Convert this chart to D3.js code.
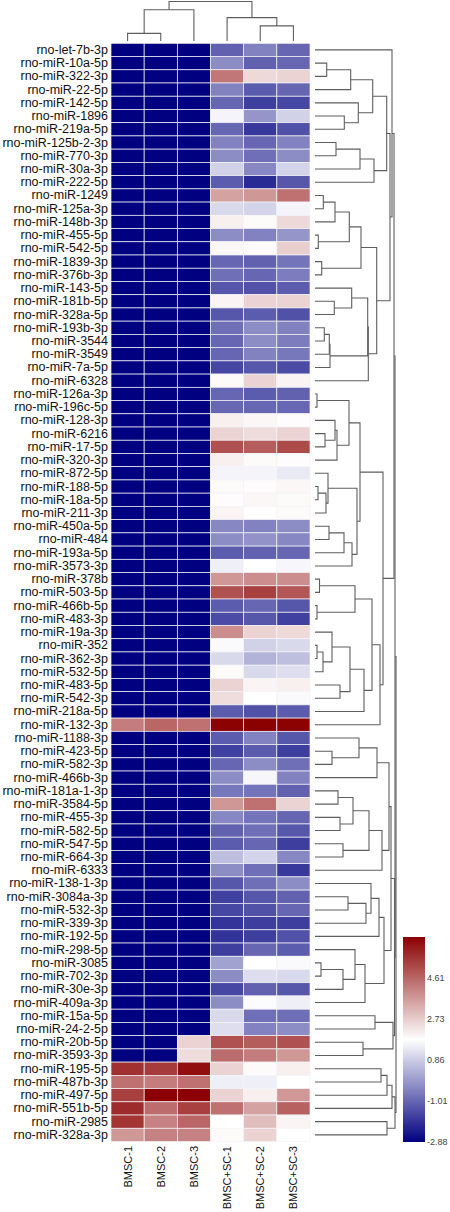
<!DOCTYPE html>
<html><head><meta charset="utf-8">
<script src="https://cdn.jsdelivr.net/npm/d3@7"></script>
<style>html,body{margin:0;padding:0;background:#fff;}svg{display:block;}</style>
</head><body>
<svg id="chart" width="450" height="1212"></svg>
<script>
const rowNames = ["rno-let-7b-3p","rno-miR-10a-5p","rno-miR-322-3p","rno-miR-22-5p","rno-miR-142-5p","rno-miR-1896","rno-miR-219a-5p","rno-miR-125b-2-3p","rno-miR-770-3p","rno-miR-30a-3p","rno-miR-222-5p","rno-miR-1249","rno-miR-125a-3p","rno-miR-148b-3p","rno-miR-455-5p","rno-miR-542-5p","rno-miR-1839-3p","rno-miR-376b-3p","rno-miR-143-5p","rno-miR-181b-5p","rno-miR-328a-5p","rno-miR-193b-3p","rno-miR-3544","rno-miR-3549","rno-miR-7a-5p","rno-miR-6328","rno-miR-126a-3p","rno-miR-196c-5p","rno-miR-128-3p","rno-miR-6216","rno-miR-17-5p","rno-miR-320-3p","rno-miR-872-5p","rno-miR-188-5p","rno-miR-18a-5p","rno-miR-211-3p","rno-miR-450a-5p","rno-miR-484","rno-miR-193a-5p","rno-miR-3573-3p","rno-miR-378b","rno-miR-503-5p","rno-miR-466b-5p","rno-miR-483-3p","rno-miR-19a-3p","rno-miR-352","rno-miR-362-3p","rno-miR-532-5p","rno-miR-483-5p","rno-miR-542-3p","rno-miR-218a-5p","rno-miR-132-3p","rno-miR-1188-3p","rno-miR-423-5p","rno-miR-582-3p","rno-miR-466b-3p","rno-miR-181a-1-3p","rno-miR-3584-5p","rno-miR-455-3p","rno-miR-582-5p","rno-miR-547-5p","rno-miR-664-3p","rno-miR-6333","rno-miR-138-1-3p","rno-miR-3084a-3p","rno-miR-532-3p","rno-miR-339-3p","rno-miR-192-5p","rno-miR-298-5p","rno-miR-3085","rno-miR-702-3p","rno-miR-30e-3p","rno-miR-409a-3p","rno-miR-15a-5p","rno-miR-24-2-5p","rno-miR-20b-5p","rno-miR-3593-3p","rno-miR-195-5p","rno-miR-487b-3p","rno-miR-497-5p","rno-miR-551b-5p","rno-miR-2985","rno-miR-328a-3p"];

const sampleNames = ["BMSC-1","BMSC-2","BMSC-3","BMSC+SC-1","BMSC+SC-2","BMSC+SC-3"];

const BMSC1 = [-2.88,-2.88,-2.88,-2.88,-2.88,-2.88,-2.88,-2.88,-2.88,-2.88,-2.88,-2.88,-2.88,-2.88,-2.88,-2.88,-2.88,-2.88,-2.88,-2.88,-2.88,-2.88,-2.88,-2.88,-2.88,-2.88,-2.88,-2.88,-2.88,-2.88,-2.88,-2.88,-2.88,-2.88,-2.88,-2.88,-2.88,-2.88,-2.88,-2.88,-2.88,-2.88,-2.88,-2.88,-2.88,-2.88,-2.88,-2.88,-2.88,-2.88,-2.88,4.2,-2.88,-2.88,-2.88,-2.88,-2.88,-2.88,-2.88,-2.88,-2.88,-2.88,-2.88,-2.88,-2.88,-2.88,-2.88,-2.88,-2.88,-2.88,-2.88,-2.88,-2.88,-2.88,-2.88,-2.88,-2.88,5.6,4.4,5.3,5.7,5.5,3.7];
const BMSC2 = [-2.88,-2.88,-2.88,-2.88,-2.88,-2.88,-2.88,-2.88,-2.88,-2.88,-2.88,-2.88,-2.88,-2.88,-2.88,-2.88,-2.88,-2.88,-2.88,-2.88,-2.88,-2.88,-2.88,-2.88,-2.88,-2.88,-2.88,-2.88,-2.88,-2.88,-2.88,-2.88,-2.88,-2.88,-2.88,-2.88,-2.88,-2.88,-2.88,-2.88,-2.88,-2.88,-2.88,-2.88,-2.88,-2.88,-2.88,-2.88,-2.88,-2.88,-2.88,4.6,-2.88,-2.88,-2.88,-2.88,-2.88,-2.88,-2.88,-2.88,-2.88,-2.88,-2.88,-2.88,-2.88,-2.88,-2.88,-2.88,-2.88,-2.88,-2.88,-2.88,-2.88,-2.88,-2.88,-2.88,-2.88,5.4,4.2,6.48,4.5,4.1,4.1];
const BMSC3 = [-2.88,-2.88,-2.88,-2.88,-2.88,-2.88,-2.88,-2.88,-2.88,-2.88,-2.88,-2.88,-2.88,-2.88,-2.88,-2.88,-2.88,-2.88,-2.88,-2.88,-2.88,-2.88,-2.88,-2.88,-2.88,-2.88,-2.88,-2.88,-2.88,-2.88,-2.88,-2.88,-2.88,-2.88,-2.88,-2.88,-2.88,-2.88,-2.88,-2.88,-2.88,-2.88,-2.88,-2.88,-2.88,-2.88,-2.88,-2.88,-2.88,-2.88,-2.88,4.4,-2.88,-2.88,-2.88,-2.88,-2.88,-2.88,-2.88,-2.88,-2.88,-2.88,-2.88,-2.88,-2.88,-2.88,-2.88,-2.88,-2.88,-2.88,-2.88,-2.88,-2.88,-2.88,-2.88,2.6,2.45,6.2,4.4,6.45,5.3,4.6,4.1];
const SC1 = [-1.1,-0.3,4.3,-0.5,-1.0,1.6,-1.0,-0.5,-0.3,0.95,-1.2,3.5,1.1,2.1,-0.3,1.95,-1.0,-0.85,-1.3,2.0,-1.3,-0.85,-1.0,-1.0,-1.6,1.9,-1.0,-1.0,2.1,2.6,5.0,2.1,1.6,1.9,1.85,2.0,-0.4,-0.3,-1.2,1.5,3.7,5.0,-1.2,-1.5,3.9,1.7,1.1,1.9,2.6,2.45,-1.2,6.45,-1.2,-1.7,-1.0,-0.3,-0.7,3.7,-0.4,-1.1,-1.2,0.6,-0.3,-1.3,-1.7,-1.6,-1.95,-1.95,-1.75,0.1,-0.3,-1.6,-0.3,1.1,1.2,5.0,4.5,2.6,1.5,2.6,4.4,1.8,1.9];
const SC2 = [-0.5,-1.1,2.5,-1.2,-1.75,-0.15,-1.85,-1.0,-0.85,-0.4,-2.1,3.7,1.0,1.9,-0.5,1.9,-1.1,-1.0,-1.4,2.6,-1.2,-0.3,-0.3,-0.5,-1.3,2.6,-1.2,-1.0,1.95,2.45,4.8,1.9,1.6,1.85,1.95,1.8,-0.5,-0.2,-1.1,1.8,3.9,5.3,-1.0,-1.3,2.6,0.95,0.4,1.1,2.0,1.8,-1.4,6.48,-0.5,-1.2,-0.3,1.65,-0.75,4.4,-0.75,-0.85,-1.0,1.0,-0.85,-0.85,-1.3,-1.4,-1.75,-1.75,-1.0,1.8,1.2,-1.1,1.75,-0.85,-0.5,4.8,4.2,1.9,1.5,2.1,3.5,3.0,2.6];
const SC3 = [-1.0,-1.0,2.6,-1.0,-1.6,0.95,-1.4,-0.5,-0.3,1.0,-1.3,4.4,1.6,2.5,-0.15,2.7,-0.75,-0.6,-1.2,2.6,-1.4,-0.5,-0.6,-0.7,-1.5,2.0,-1.1,-1.0,1.85,2.6,5.1,1.85,1.4,1.95,1.9,1.9,-0.3,-0.4,-1.0,1.65,3.9,4.9,-1.3,-1.7,2.5,1.1,0.6,1.2,2.1,1.7,-1.2,6.45,-1.3,-1.75,-0.85,-0.5,-1.1,2.6,-1.0,-1.3,-1.75,-0.4,-1.85,-0.3,-1.1,-1.0,-1.75,-1.4,-1.2,1.7,1.1,-1.3,1.5,-0.85,-0.3,5.0,3.7,2.1,1.8,3.7,4.7,2.0,1.8];

const legendTicks = [-2.88, -1.01, 0.86, 2.73, 4.61];
const colorDomain = [-2.88, 1.8, 6.48];

// row dendrogram: [height, left, right]; leaves are 1-based row numbers
const rowTree =
[81,
  [80,
    [79,
      [77, 1, [75,
          [71.7,
            [57.7, [35.7, [11.7, 2, 3], 4], [43.3, 5, [29.3, 6, 7]]],
            [59, [45, [21, 8, 9], 10], 11]],
          [61.7,
            [46, [34.3, [20, [8.3, 12, 13], 14], [3.3, 15, 16]], [6.7, 17, 18]],
            [53.3, [52.7, [36.7, 19, [19.3, 20, 21]], [15, [14.3, [9.3, 22, 23], 24], 25]], 26]]]],
      [68,
        [45,
          [34, [2, 27, 28], [22, [20, 29, [10, 30, 31]], 32]],
          [42, [13, 33, [11, [3, 34, 35], 36]], [37, [29, [14, 37, 38], 39], 40]]],
        [65,
          [57, [40, [4.5, 41, 42], [2, 43, 44]],
               [49, [35, [17, 45, [8, [2, 46, 47], 48]], [25, 49, 50]], 51]],
          52]]],
    [79.5,
      [76,
        [74, [62, [44, 53, [17, 54, 55]], 56],
             [67, [54, [38, [23, 57, 58], [25, 59, 60]], [28, 61, 62]], 63]],
        [69, [64, [56, 64, [51, [33, 65, 66], 67]], 68],
             [50, [40, 69, [28, [6, 70, 71], 72]], 73]]],
      [78, [60, 74, 75], [48, 76, 77]]]],
  [80, [77, [72, [66, 78, 79], 80], 81], [72, 82, 83]]];

// column dendrogram
const colTree = [40, [31.7, [7.7, 1, 2], 3], [23.7, 4, [15.3, 5, 6]]];

const seriesValues = [BMSC1, BMSC2, BMSC3, SC1, SC2, SC3];

const svg = d3.select("#chart");
const x = d3.scaleBand().domain(sampleNames).range([111, 310]);
const y = d3.scaleBand().domain(rowNames).range([43.3, 1141.5]);
const color = d3.scaleLinear().domain(colorDomain).range(["#000080", "#ffffff", "#8b0000"]).interpolate(d3.interpolateRgb);

const cells = [];
sampleNames.forEach((s, j) => rowNames.forEach((r, i) => cells.push({s, r, v: seriesValues[j][i]})));

svg.append("g").selectAll("rect").data(cells).join("rect")
  .attr("x", d => x(d.s)).attr("y", d => y(d.r))
  .attr("width", x.bandwidth()).attr("height", y.bandwidth())
  .attr("fill", d => color(d.v))
  .attr("stroke", "#f4f4f8").attr("stroke-width", 0.7);

// row labels
svg.append("g").selectAll("text").data(rowNames).join("text")
  .attr("x", 108).attr("y", d => y(d) + y.bandwidth() / 2)
  .attr("text-anchor", "end").attr("dominant-baseline", "central")
  .attr("font-family", "Liberation Sans, Arial, sans-serif").attr("font-size", "12.5px")
  .attr("fill", "#111").text(d => d);

// column labels
svg.append("g").selectAll("text").data(sampleNames).join("text")
  .attr("transform", d => `translate(${x(d) + x.bandwidth() / 2 + 4},1146) rotate(-90)`)
  .attr("text-anchor", "end")
  .attr("font-family", "Liberation Sans, Arial, sans-serif").attr("font-size", "11px")
  .attr("fill", "#111").text(d => d);

// row dendrogram
const hx = d3.scaleLinear().domain([0, 81]).range([315, 396]);
const rowPaths = [];
function layoutRow(node) {
  if (typeof node === "number") {
    const name = rowNames[node - 1];
    return {x: hx(0), y: y(name) + y.bandwidth() / 2};
  }
  const a = layoutRow(node[1]), b = layoutRow(node[2]);
  const nx = hx(node[0]);
  rowPaths.push(`M${a.x},${a.y}H${nx}V${b.y}H${b.x}`);
  return {x: nx, y: (a.y + b.y) / 2};
}
layoutRow(rowTree);
svg.append("g").selectAll("path").data(rowPaths).join("path")
  .attr("d", d => d).attr("fill", "none").attr("stroke", "#5e5e5e").attr("stroke-width", 1.1);

// column dendrogram
const hy = d3.scaleLinear().domain([0, 40]).range([41, 1.5]);
const colPaths = [];
function layoutCol(node) {
  if (typeof node === "number") {
    const name = sampleNames[node - 1];
    return {x: x(name) + x.bandwidth() / 2, y: hy(0)};
  }
  const a = layoutCol(node[1]), b = layoutCol(node[2]);
  const ny = hy(node[0]);
  colPaths.push(`M${a.x},${a.y}V${ny}H${b.x}V${b.y}`);
  return {x: (a.x + b.x) / 2, y: ny};
}
layoutCol(colTree);
svg.append("g").selectAll("path").data(colPaths).join("path")
  .attr("d", d => d).attr("fill", "none").attr("stroke", "#5e5e5e").attr("stroke-width", 1.1);

// legend
const ly = d3.scaleLinear().domain([colorDomain[0], colorDomain[2]]).range([1142, 937]);
const defs = svg.append("defs");
const grad = defs.append("linearGradient").attr("id", "lg").attr("x1", 0).attr("y1", 1).attr("x2", 0).attr("y2", 0);
d3.range(0, 1.0001, 0.05).forEach(t => {
  const v = colorDomain[0] + t * (colorDomain[2] - colorDomain[0]);
  grad.append("stop").attr("offset", t).attr("stop-color", color(v));
});
svg.append("rect").attr("x", 403).attr("y", ly(colorDomain[2])).attr("width", 22)
  .attr("height", ly(colorDomain[0]) - ly(colorDomain[2])).attr("fill", "url(#lg)");
svg.append("g").selectAll("text").data(legendTicks).join("text")
  .attr("x", 427).attr("y", d => ly(d)).attr("dominant-baseline", "central")
  .attr("font-family", "Liberation Sans, Arial, sans-serif").attr("font-size", "9px")
  .attr("fill", "#444").text(d => d.toFixed(2));
</script>
</body></html>
